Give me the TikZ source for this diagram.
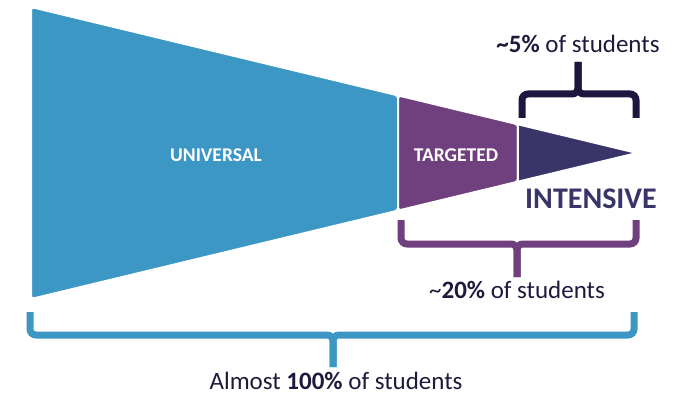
\documentclass[tikz,border=0pt]{standalone}
\usepackage{fontspec}
\setmainfont{Carlito}
\usetikzlibrary{calc}

\definecolor{uniblue}{HTML}{3D97C5}
\definecolor{tarpurple}{HTML}{6F3F7E}
\definecolor{intnavy}{HTML}{3A3569}
\definecolor{bracenavy}{HTML}{1F1640}
\definecolor{txtnavy}{HTML}{1E1A3C}

\begin{document}
\begin{tikzpicture}[
  x=1pt, y=-1pt,
  segment/.style ={draw=white, line width=2pt, rounded corners=3pt},
  inlbl/.style   ={text=white, font=\fontsize{19.5}{22}\selectfont\bfseries, inner sep=0pt},
  share/.style   ={text=txtnavy, font=\fontsize{25}{28}\selectfont, inner sep=0pt},
  brace/.style   ={line width=7pt, rounded corners=6pt, line cap=butt},
]
\useasboundingbox (0,0) rectangle (676,403);

%% ---- funnel corners ----
\coordinate (tl)   at (31,7);
\coordinate (bl)   at (31,299);
\coordinate (apex) at (637,153);
\coordinate (t1) at ($(tl)!0.6056!(apex)$);
\coordinate (b1) at ($(bl)!0.6056!(apex)$);
\coordinate (t2) at ($(tl)!0.8036!(apex)$);
\coordinate (b2) at ($(bl)!0.8036!(apex)$);

%% ---- segments ----
\draw[segment, fill=uniblue]   (tl) -- (t1) -- (b1) -- (bl) -- cycle;
\draw[segment, fill=tarpurple] (t1) -- (t2) -- (b2) -- (b1) -- cycle;
\draw[segment, fill=intnavy, rounded corners=0pt] (t2) -- (apex) -- (b2) -- cycle;

\node[inlbl] (universal) at (216,155) {UNIVERSAL};
\node[inlbl] (targeted)  at (456,155) {TARGETED};
\node[text=intnavy, font=\fontsize{30}{34}\selectfont\bfseries, inner sep=0pt]
  (intensive) at (591,199) {INTENSIVE};

%% ---- ~5% brace (above) ----
\coordinate (b5l) at (522,118);
\coordinate (b5r) at (636,118);
\coordinate (b5m) at (578,94);
\coordinate (b5s) at (578,62);
\draw[brace, bracenavy] (b5l) |- (b5m) -- (b5s);
\draw[brace, bracenavy] (b5r) |- (b5m) -- (b5s);
\node[share] (five) at (578,44) {\textbf{\char`\~5\%} of students};

%% ---- ~20% brace ----
\coordinate (b20l) at (401,220);
\coordinate (b20r) at (636,220);
\coordinate (b20m) at (517,244);
\coordinate (b20s) at (517,277);
\draw[brace, tarpurple] (b20l) |- (b20m) -- (b20s);
\draw[brace, tarpurple] (b20r) |- (b20m) -- (b20s);
\node[share] (twenty) at (517,290) {\char`\~\textbf{20\%} of students};

%% ---- 100% brace ----
\coordinate (b100l) at (30,312);
\coordinate (b100r) at (634,312);
\coordinate (b100m) at (333,335);
\coordinate (b100s) at (333,367);
\draw[brace, uniblue] (b100l) |- (b100m) -- (b100s);
\draw[brace, uniblue] (b100r) |- (b100m) -- (b100s);
\node[share] (hundred) at (336,381) {Almost \textbf{100\%} of students};

\end{tikzpicture}
\end{document}
